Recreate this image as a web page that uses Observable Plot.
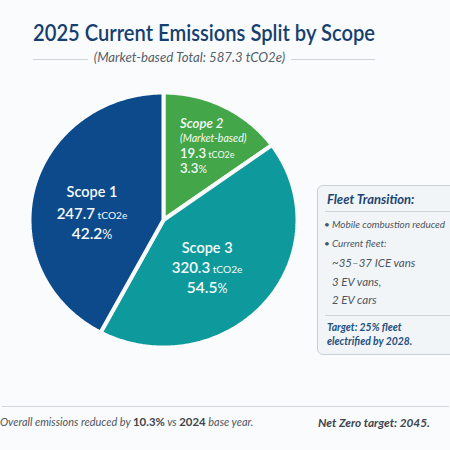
<!DOCTYPE html>
<html><head><meta charset="utf-8">
<script src="https://cdn.jsdelivr.net/npm/d3@7"></script>
<script src="https://cdn.jsdelivr.net/npm/@observablehq/plot@0.6"></script>
<style>
html,body{margin:0;padding:0;background:#fafbfc;width:450px;height:450px;overflow:hidden;font-family:Lato,sans-serif}
#wrap{position:relative;width:450px;height:450px}
#head{height:80px;position:relative}
#title{position:absolute;left:33px;top:18px;font-size:23.5px;font-weight:600;color:#153f6f;white-space:nowrap;transform-origin:0 50%}
#sub{position:absolute;left:0;width:379px;text-align:center;top:49px;font-size:13.2px;font-style:italic;color:#55606b;white-space:nowrap}
.hr{position:absolute;height:1px;background:#cfd3d8}
#plot{position:absolute;left:0;top:80px}
#panel{position:absolute;left:317px;top:185px;width:140px;height:170px;box-sizing:border-box;background:#f2f5f8;border:1.5px solid #c9cfd6;border-radius:6px;color:#4d5660}
#panel div{position:absolute;white-space:nowrap;font-style:italic}
#foot1,#foot2{position:absolute;top:415px;font-size:10.95px;font-style:italic;color:#4f565e;white-space:nowrap}
#foot1 b{color:#3e454d;font-style:normal;font-size:11.4px}
#foot2{font-size:11.8px}
#foot2 b{color:#3e454d}
</style></head><body>
<div id="wrap">
<div id="head"><div id="title"></div><div id="sub"></div>
<div class="hr" style="left:33px;width:55px;top:59px"></div>
<div class="hr" style="left:291px;width:84px;top:59px"></div></div>
<div id="plot"></div>
<div id="panel"></div>
<div class="hr" style="left:2px;width:447px;top:406px;background:#d3d6da"></div>
<div id="foot1"></div><div id="foot2"></div>
</div>
<script>
const titleText = "2025 Current Emissions Split by Scope";
const subtitleText = "(Market-based Total: 587.3 tCO2e)";
// slices, clockwise from 12 o'clock, with the sweep (degrees)
const scopes = ["Scope 2", "Scope 3", "Scope 1"];
const sweeps = [54, 154, 152];
const emissions = ["19.3", "320.3", "247.7"];
const shares = ["3.3%", "54.5%", "42.2%"];
const notes = ["(Market-based)", null, null];
const colors = ["#43a649", "#0e9a9c", "#0c4a8c"];
const footerLeft = ["Overall emissions reduced by ", "10.3%", " vs ", "2024", " base year."];
const footerRight = "Net Zero target: 2045.";
const panelHeading = "Fleet Transition:";
const panelBullets = ["Mobile combustion reduced", "Current fleet:"];
const panelFleet = ["~35–37 ICE vans", "3 EV vans,", "2 EV cars"];
const panelTarget = ["Target: 25% fleet", "electrified by 2028."];

const titleEl = document.getElementById("title");
titleEl.textContent = titleText;
document.getElementById("sub").textContent = subtitleText;

// wedge outlines on a unit circle
let start = 0;
const wedges = [], anchors = [];
scopes.forEach((s, i) => {
  const end = start + sweeps[i];
  wedges.push({scope: s, px: 0, py: 0});
  for (let a = start; a <= end; a += 1) {
    const r = a * Math.PI / 180;
    wedges.push({scope: s, px: Math.sin(r), py: Math.cos(r)});
  }
  wedges.push({scope: s, px: 0, py: 0});
  const m = (start + end) / 2 * Math.PI / 180;
  anchors.push({px: 0.55 * Math.sin(m), py: 0.55 * Math.cos(m)});
  start = end;
});

const labelStyle = {
  "Scope 2": {dx: -17, anchor: "start", dys: [-34, -19, -4, 11], sizes: [13.2, 10.6, 13.2, 13.2]},
  "Scope 3": {dx: -12, anchor: "middle", dys: [-17.5, 2.5, 22.5], sizes: [14.5, 15, 15.5]},
  "Scope 1": {dx: 0, anchor: "middle", dys: [-10.5, 11.5, 30.5], sizes: [14.5, 15, 15.5]}
};
const labelMarks = scopes.flatMap((s, i) => {
  const lines = [s, notes[i], emissions[i] + " tCO2e", shares[i]].filter(Boolean);
  const st = labelStyle[s];
  return lines.map((t, j) => Plot.text([anchors[i]], {
    x: "px", y: "py", text: () => t, dx: st.dx, dy: st.dys[j], textAnchor: st.anchor,
    fill: "#f4fafa", fontSize: st.sizes[j], fontWeight: notes[i] && j === 1 ? 400 : 600,
    fontStyle: (s === "Scope 2" && j < 2) ? "italic" : "normal",
    fontFamily: "Lato, sans-serif"
  }));
});

const chart = Plot.plot({
  width: 450, height: 290, margin: 0,
  style: {background: "transparent", overflow: "visible"},
  x: {domain: [-1, 1], range: [29, 297], axis: null},
  y: {domain: [-1, 1], range: [267, 12], axis: null},
  color: {domain: scopes, range: colors},
  marks: [
    Plot.line(wedges, {x: "px", y: "py", z: "scope", fill: "scope", stroke: "#fafbfc",
      strokeWidth: 4, curve: "linear", strokeLinejoin: "miter"}),
    ...labelMarks
  ]
});
document.getElementById("plot").append(chart);
// smaller units inside the value lines
d3.select(chart).selectAll("text").each(function() {
  const t = this.textContent, m = t.match(/^(.*?)( tCO2e|%)$/);
  if (!m || !/^[\d.]+$/.test(m[1])) return;
  const el = d3.select(this), fs = parseFloat(getComputedStyle(this).fontSize);
  el.text(null);
  el.append("tspan").text(m[1]);
  el.append("tspan").attr("font-size", m[2] === "%" ? fs * 0.8 : fs * 0.68).attr("font-weight", 400).text(m[2]);
});
// the reference's title is a narrower cut than Lato: fit it to its measured span
titleEl.style.transform = `scaleX(${342 / titleEl.getBoundingClientRect().width})`;

// side panel
const panel = document.getElementById("panel");
function add(t, left, top, css) {
  const d = document.createElement("div");
  d.textContent = t; d.style.left = left + "px"; d.style.top = top + "px";
  d.style.cssText += css; panel.append(d);
}
add(panelHeading, 9, 5, "font-size:13px;font-weight:700;color:#1d4571");
add("", 7, 25, "width:125px;height:1px;background:#cfd3d8");
panelBullets.forEach((t, i) => {
  add("•", 6, 31.5 + i * 19, "font-size:10px;font-style:normal");
  add(t, 14, 31.5 + i * 19, "font-size:9.9px");
});
panelFleet.forEach((t, i) => add(t, 14, 70 + i * 18.5, "font-size:11.5px"));
add("", 7, 129, "width:125px;height:1px;background:#cfd3d8");
panelTarget.forEach((t, i) => add(t, 9, 135 + i * 14, "font-size:10.4px;font-weight:700;color:#255080"));

// footer
const f1 = document.getElementById("foot1");
f1.style.left = "0px";
footerLeft.forEach((t, i) => {
  const e = document.createElement(i === 1 || i === 3 ? "b" : "span");
  e.textContent = t; f1.append(e);
});
const f2 = document.getElementById("foot2");
f2.style.left = "318px";
const b = document.createElement("b"); b.textContent = footerRight; f2.append(b);
</script>
</body></html>
